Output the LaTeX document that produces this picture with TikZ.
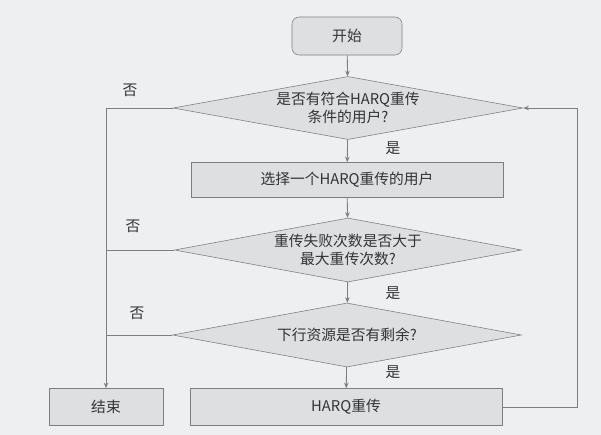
\documentclass[tikz,border=0pt]{standalone}
\usepackage{fontspec}
\usepackage{xcolor}
\usepackage{tikz}
\usetikzlibrary{arrows.meta, positioning, shapes.geometric}
\newfontfamily\cjk{Noto Sans CJK SC}
\definecolor{bgcol}{HTML}{EDEFF1}
\definecolor{boxfill}{HTML}{DEDFE1}
\definecolor{linecol}{HTML}{7C7E80}
\definecolor{txtcol}{HTML}{333333}

\begin{document}
\begin{tikzpicture}[x=0.025cm, y=-0.025cm,
  every node/.style={font=\cjk\fontsize{10.5}{13}\selectfont, text=txtcol},
  procbox/.style={rectangle, draw=linecol, fill=boxfill, inner sep=0pt},
  termbox/.style={rectangle, rounded corners=5pt, draw=linecol, fill=boxfill, inner sep=0pt},
  decide/.style={diamond, aspect=5.5, draw=linecol, fill=boxfill, inner sep=0pt, align=center},
  flow/.style={draw=linecol, line width=0.6pt, -{Stealth[length=4pt, width=3.2pt]}},
  plain/.style={draw=linecol, line width=0.6pt}
]
  % Background
  \fill[bgcol] (0,0) rectangle (601,435);
  \useasboundingbox (0,0) rectangle (601,435);

  % Boxes
  \node[termbox, minimum width=110*0.025cm, minimum height=38*0.025cm] (start) at (347,36) {开始};
  \node[decide, minimum width=350*0.025cm, minimum height=63*0.025cm] (q1) at (348,108) {是否有符合HARQ重传\\条件的用户?};
  \node[procbox, minimum width=312*0.025cm, minimum height=35*0.025cm] (pick) at (347,180) {选择一个HARQ重传的用户};
  \node[decide, minimum width=347*0.025cm, minimum height=64*0.025cm] (q2) at (348,250) {重传失败次数是否大于\\最大重传次数?};
  \node[decide, minimum width=349*0.025cm, minimum height=64*0.025cm] (q3) at (347,335) {下行资源是否有剩余?};
  \node[procbox, minimum width=114*0.025cm, minimum height=37*0.025cm] (stop) at (106,407) {结束};
  \node[procbox, minimum width=312*0.025cm, minimum height=37*0.025cm] (resend) at (346,407) {HARQ重传};

  % Main flow
  \draw[flow] (start) -- (q1);
  \draw[flow] (q1) -- (pick);
  \draw[flow] (pick) -- (q2);
  \draw[flow] (q2) -- (q3);
  \draw[flow] (q3) -- (resend);
  \node at (393,148) {是};
  \node at (393,293) {是};
  \node at (393,372) {是};

  % No branches
  \draw[flow] (q1.west) -| (stop.north);
  \draw[plain] (q2.west) -- (q2.west -| stop.north);
  \draw[plain] (q3.west) -- (q3.west -| stop.north);
  \node at (130,90) {否};
  \node at (133,226) {否};
  \node at (137,313) {否};

  % Loop back
  \coordinate (back) at (577,407);
  \draw[flow] (resend.east) -- (back) |- (q1.east);
\end{tikzpicture}
\end{document}
